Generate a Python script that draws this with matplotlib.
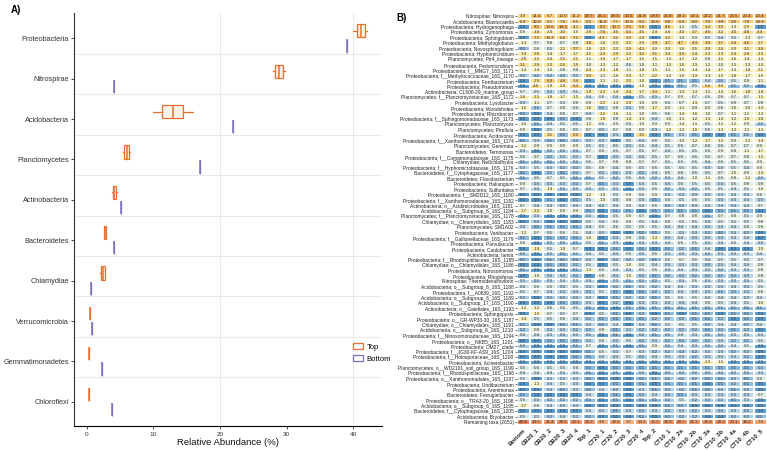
import numpy as np
import matplotlib
matplotlib.use("Agg")
import matplotlib.pyplot as plt
from matplotlib.colors import LinearSegmentedColormap, Normalize
from matplotlib.patches import Patch

plt.rcParams['font.family'] = ['Liberation Sans', 'DejaVu Sans']

# ---- panel A data (box stats) ----
phyla = ['Proteobacteria', 'Nitrospirae', 'Acidobacteria', 'Planctomycetes',
         'Actinobacteria', 'Bacteroidetes', 'Chlamydiae', 'Verrucomicrobia',
         'Gemmatimonadetes', 'Chloroflexi']
top_whislo = [39.9, 27.9, 10.0, 5.4, 3.8, 2.6, 2.0, 0.5, 0.35, 0.3]
top_q1 = [40.5, 28.3, 11.35, 5.55, 3.9, 2.6, 2.1, 0.5, 0.35, 0.3]
top_med = [41.1, 28.9, 12.9, 6.0, 4.15, 2.75, 2.4, 0.5, 0.35, 0.3]
top_q3 = [41.8, 29.4, 14.4, 6.4, 4.4, 2.9, 2.7, 0.5, 0.35, 0.3]
top_whishi = [42.1, 29.8, 15.9, 6.55, 4.5, 2.9, 2.8, 0.5, 0.35, 0.3]
bottom_vals = [39.1, 4.15, 21.9, 16.96, 5.1, 4.15, 0.65, 0.85, 2.25, 3.75]

# ---- panel B data ----
samples = ['Bottom', 'CB20_1', 'CB20_2', 'CB20_3', 'CB20_4', 'Top_1', 'CT20_1',
           'CT20_2', 'CT20_3', 'CT20_4', 'Top_2', 'CT10_1', 'CT10_2a', 'CT10_2b',
           'CT10_3a', 'CT10_3b', 'CT10_4a', 'CT10_4b', 'CT10_5']

taxa = [
    'Nitrospirae; Nitrospira', 'Acidobacteria; Blastocatella',
    'Proteobacteria; Hydrogenophaga', 'Proteobacteria; Zymomonas',
    'Proteobacteria; Sphingobium', 'Proteobacteria; Methyloglobulus',
    'Proteobacteria; Novosphingobium', 'Proteobacteria; Hyphomicrobium',
    'Planctomycetes; Pir4_lineage', 'Proteobacteria; Pedomicrobium',
    'Proteobacteria; f__MNG7_16S_1171', 'Proteobacteria; f__Methylococcaceae_16S_1170',
    'Proteobacteria; Ferribacterium', 'Proteobacteria; Pseudomonas',
    'Actinobacteria; CL500-29_marine_group', 'Planctomycetes; f__Planctomycetaceae_16S_1172',
    'Proteobacteria; Lysobacter', 'Proteobacteria; Woodsholea',
    'Proteobacteria; Rhizobacter', 'Proteobacteria; f__Sphingomonadaceae_16S_1173',
    'Planctomycetes; Planctomyces', 'Planctomycetes; Pirellula',
    'Proteobacteria; Acidovorax', 'Proteobacteria; f__Xanthomonadaceae_16S_1174',
    'Planctomycetes; Gemmata', 'Bacteroidetes; Terrimonas',
    'Proteobacteria; f__Comamonadaceae_16S_1175', 'Chlamydiae; Neochlamydia',
    'Proteobacteria; f__Hyphomicrobiaceae_16S_1176', 'Bacteroidetes; f__Cytophagaceae_16S_1177',
    'Bacteroidetes; Flavobacterium', 'Proteobacteria; Haliangium',
    'Proteobacteria; Sulfuritalea', 'Proteobacteria; f__SM2D12_16S_1180',
    'Proteobacteria; f__Xanthomonadaceae_16S_1182', 'Actinobacteria; o__Acidimicrobiales_16S_1181',
    'Acidobacteria; o__Subgroup_6_16S_1184', 'Planctomycetes; f__Planctomycetaceae_16S_1178',
    'Chlamydiae; o__Chlamydiales_16S_1183', 'Planctomycetes; SM1A02',
    'Proteobacteria; Variibacter', 'Proteobacteria; f__Gallionellaceae_16S_1179',
    'Proteobacteria; Parvularcula', 'Proteobacteria; Caulobacter',
    'Actinobacteria; Iamia', 'Proteobacteria; f__Rhodospirillaceae_16S_1185',
    'Chlamydiae; o__Chlamydiales_16S_1186', 'Proteobacteria; Nitrosomonas',
    'Proteobacteria; Rhodoferax', 'Nitrospirae; Thermodesulfovibrio',
    'Acidobacteria; o__Subgroup_6_16S_1188', 'Proteobacteria; f__A0839_16S_1192',
    'Acidobacteria; o__Subgroup_6_16S_1189', 'Acidobacteria; o__Subgroup_17_16S_1190',
    'Actinobacteria; o__Gaiellales_16S_1193', 'Proteobacteria; Sphingopyxis',
    'Proteobacteria; o__GR-WP33-30_16S_1187', 'Chlamydiae; o__Chlamydiales_16S_1191',
    'Acidobacteria; o__Subgroup_6_16S_1210', 'Proteobacteria; f__Nitrosomonadaceae_16S_1194',
    'Proteobacteria; o__NKB5_16S_1201', 'Proteobacteria; OM27_clade',
    'Proteobacteria; f__JG30-KF-AS9_16S_1204', 'Proteobacteria; f__Holosporaceae_16S_1200',
    'Proteobacteria; Acinetobacter', 'Planctomycetes; o__WD2101_soil_group_16S_1199',
    'Proteobacteria; f__Rhodospirillaceae_16S_1196', 'Proteobacteria; o__Xanthomonadales_16S_1197',
    'Proteobacteria; Undibacterium', 'Proteobacteria; Arenimonas',
    'Bacteroidetes; Ferruginibacter', 'Proteobacteria; o__TRA3-20_16S_1198',
    'Acidobacteria; o__Subgroup_6_16S_1195', 'Bacteroidetes; f__Cytophagaceae_16S_1205',
    'Acidobacteria; Bryobacter', 'Remaining taxa (2651)',
]

abundance = [
    [3.9, 11.4, 6.7, 10.0, 11.2, 29.7, 26.1, 29.9, 30.5, 21.8, 28.0, 25.8, 19.3, 22.1, 22.2, 21.7, 23.5, 20.4, 20.4],
    [6.9, 12.0, 5.5, 7.6, 6.5, 6.5, 11.0, 7.7, 10.9, 9.1, 13.6, 9.0, 6.4, 8.0, 7.0, 9.9, 9.0, 7.8, 10.9],
    [0.0, 8.5, 10.6, 14.3, 4.1, 0.0, 8.3, 10.7, 9.1, 5.8, 0.0, 4.6, 1.1, 0.5, 3.4, 3.0, 1.3, 2.0, 0.0],
    [0.9, 3.4, 2.4, 3.0, 1.5, 2.8, 7.0, 3.6, 5.5, 3.5, 2.4, 2.4, 3.3, 3.7, 4.6, 3.2, 3.6, 4.8, 4.4],
    [0.0, 7.1, 10.7, 6.0, 7.1, 0.0, 4.3, 3.2, 3.2, 2.4, 0.0, 3.2, 1.0, 0.9, 0.5, 0.4, 0.6, 1.3, 0.7],
    [1.3, 0.7, 0.8, 0.7, 0.8, 3.8, 1.6, 2.2, 2.1, 2.0, 3.9, 3.7, 4.7, 4.3, 3.8, 3.7, 3.4, 4.6, 2.7],
    [0.1, 0.8, 0.5, 2.1, 7.7, 1.6, 2.2, 2.3, 2.9, 4.1, 2.0, 2.0, 1.6, 2.5, 2.9, 2.4, 2.0, 3.1, 3.9],
    [1.9, 2.8, 1.4, 1.7, 1.7, 2.1, 2.4, 2.9, 2.2, 3.2, 3.1, 2.4, 3.3, 2.4, 2.3, 2.3, 2.4, 2.8, 2.3],
    [2.8, 2.2, 2.4, 2.5, 2.1, 1.1, 1.9, 1.7, 1.7, 1.5, 1.5, 1.3, 1.7, 1.2, 0.9, 1.5, 1.6, 1.4, 1.3],
    [3.1, 2.9, 2.3, 2.6, 1.9, 1.0, 1.3, 1.2, 0.6, 1.0, 1.1, 1.3, 1.6, 1.3, 1.2, 1.0, 1.3, 1.3, 1.3],
    [1.3, 1.4, 1.0, 0.8, 0.8, 2.4, 2.3, 1.8, 1.1, 1.8, 1.5, 1.1, 1.5, 1.4, 1.4, 1.7, 1.3, 1.8, 2.1],
    [0.2, 0.2, 0.2, 0.2, 0.3, 3.9, 1.1, 1.6, 2.3, 1.7, 2.2, 1.3, 1.6, 1.9, 1.3, 1.5, 1.8, 1.7, 1.5],
    [0.0, 2.9, 6.9, 4.8, 3.4, 0.0, 1.1, 1.2, 2.0, 1.6, 0.0, 0.1, 0.1, 0.1, 0.4, 0.2, 0.5, 0.9, 1.1],
    [0.0, 4.0, 1.9, 2.0, 6.3, 0.0, 0.0, 0.0, 0.0, 1.2, 0.0, 0.0, 0.1, 0.5, 5.6, 3.0, 0.1, 0.2, 0.0],
    [0.7, 0.5, 0.3, 0.3, 0.5, 1.9, 2.2, 1.4, 2.4, 1.7, 3.3, 1.1, 1.3, 1.3, 1.1, 1.3, 1.6, 1.8, 1.4],
    [2.4, 2.3, 1.8, 1.7, 1.5, 0.4, 0.6, 0.4, 0.0, 0.5, 0.3, 0.7, 0.9, 0.7, 0.6, 0.8, 0.7, 0.7, 1.5],
    [0.3, 1.1, 0.7, 0.6, 0.8, 0.9, 2.2, 1.3, 2.0, 1.0, 0.9, 0.6, 0.7, 1.3, 0.7, 0.5, 0.8, 0.7, 0.8],
    [1.5, 0.2, 0.7, 0.8, 0.6, 1.6, 0.2, 0.8, 0.3, 0.9, 1.7, 0.9, 1.1, 0.9, 0.9, 0.8, 1.0, 1.0, 1.3],
    [0.1, 0.0, 0.4, 0.6, 0.7, 0.4, 2.2, 1.6, 1.1, 1.0, 0.5, 0.6, 1.4, 1.6, 1.0, 0.7, 1.1, 1.1, 1.3],
    [0.0, 0.0, 0.0, 0.1, 0.0, 0.8, 1.8, 0.8, 1.4, 1.3, 0.4, 1.0, 1.1, 1.2, 1.3, 1.3, 1.2, 1.6, 1.8],
    [1.0, 0.1, 0.4, 0.5, 0.5, 1.2, 0.6, 0.9, 0.6, 1.0, 0.9, 0.9, 1.4, 1.1, 0.6, 1.1, 1.2, 0.9, 0.2],
    [0.9, 0.0, 0.5, 0.6, 0.5, 0.7, 0.3, 0.7, 0.8, 0.9, 0.3, 1.2, 1.3, 1.6, 0.6, 1.3, 1.3, 1.1, 1.1],
    [0.0, 0.0, 3.5, 0.1, 5.6, 0.0, 0.0, 0.3, 0.0, 3.5, 0.0, 0.1, 0.3, 0.1, 0.0, 0.0, 0.1, 0.2, 0.0],
    [0.1, 0.3, 0.1, 0.1, 0.2, 0.3, 0.3, 0.0, 0.5, 0.3, 0.6, 0.6, 1.0, 1.2, 1.7, 1.2, 0.9, 1.2, 1.4],
    [1.2, 0.9, 0.9, 0.9, 0.9, 0.5, 0.5, 0.5, 0.3, 0.6, 0.4, 0.5, 0.6, 0.7, 0.6, 0.6, 0.7, 0.7, 0.9],
    [0.3, 0.0, 0.2, 0.2, 0.2, 0.7, 0.6, 0.5, 0.7, 0.5, 0.7, 0.4, 0.5, 0.5, 0.6, 0.9, 0.8, 1.1, 1.7],
    [0.6, 0.7, 0.2, 0.3, 0.3, 0.7, 0.0, 0.3, 0.4, 0.4, 0.5, 0.7, 0.6, 0.6, 0.6, 0.7, 0.7, 0.8, 1.2],
    [0.1, 0.1, 0.1, 0.2, 0.2, 0.6, 0.7, 0.8, 0.8, 0.7, 0.7, 0.5, 0.6, 0.6, 0.4, 0.6, 0.5, 0.5, 0.9],
    [0.3, 0.5, 0.3, 0.2, 0.2, 0.5, 0.8, 0.4, 0.6, 0.5, 0.6, 0.5, 0.5, 0.5, 0.3, 0.4, 0.5, 0.4, 0.9],
    [0.1, 0.0, 0.2, 0.1, 0.2, 0.7, 0.3, 0.2, 0.4, 0.2, 0.4, 0.6, 0.6, 0.6, 0.5, 0.7, 1.0, 0.9, 1.4],
    [0.1, 0.5, 0.7, 0.5, 0.1, 0.1, 0.5, 0.2, 0.6, 0.4, 0.2, 0.3, 0.4, 1.0, 1.1, 0.6, 0.8, 1.2, 0.2],
    [0.9, 0.3, 0.3, 0.3, 0.2, 0.7, 0.1, 0.3, 0.0, 0.4, 0.6, 0.4, 0.6, 0.5, 0.5, 0.3, 0.6, 0.8, 0.8],
    [0.7, 0.3, 1.4, 0.2, 0.3, 0.3, 0.3, 0.3, 0.0, 0.3, 0.6, 0.2, 0.3, 0.2, 0.6, 0.5, 0.4, 0.5, 1.0],
    [0.0, 0.0, 0.0, 0.0, 0.0, 1.2, 1.0, 0.5, 0.9, 0.6, 0.9, 0.3, 0.3, 0.3, 0.3, 0.3, 0.4, 0.3, 0.6],
    [0.0, 0.0, 0.1, 0.0, 0.1, 0.5, 1.0, 0.4, 0.8, 0.4, 0.1, 0.6, 0.5, 0.6, 0.5, 0.3, 0.4, 0.4, 0.3],
    [0.7, 0.4, 0.4, 0.2, 0.3, 0.4, 0.3, 0.4, 0.6, 0.4, 0.6, 0.2, 0.2, 0.3, 0.4, 0.3, 0.3, 0.4, 0.7],
    [1.7, 2.2, 1.0, 0.9, 0.9, 0.1, 0.0, 0.1, 0.1, 0.0, 0.1, 0.1, 0.1, 0.1, 0.0, 0.1, 0.1, 0.1, 0.0],
    [0.0, 0.3, 0.0, 0.0, 0.0, 0.3, 0.0, 0.5, 0.9, 0.7, 0.0, 0.7, 0.8, 0.8, 0.1, 0.7, 0.8, 0.5, 0.9],
    [0.0, 0.2, 0.0, 0.0, 0.0, 0.5, 0.4, 0.6, 0.8, 0.5, 0.4, 0.6, 0.5, 0.5, 0.4, 0.5, 0.5, 0.5, 0.8],
    [0.4, 0.1, 0.1, 0.1, 0.1, 0.4, 0.6, 0.6, 0.5, 0.6, 0.5, 0.4, 0.4, 0.4, 0.3, 0.4, 0.4, 0.6, 0.8],
    [1.2, 0.7, 0.5, 0.6, 0.6, 0.4, 0.3, 0.0, 0.0, 0.1, 0.1, 0.5, 0.3, 0.3, 0.2, 0.1, 0.3, 0.2, 0.0],
    [0.1, 0.0, 0.1, 0.1, 0.1, 1.0, 0.0, 0.3, 0.8, 0.4, 1.3, 0.3, 0.4, 0.3, 0.3, 0.3, 0.4, 0.4, 0.0],
    [0.8, 0.0, 0.2, 0.2, 0.1, 0.5, 0.1, 0.3, 0.0, 0.3, 0.3, 0.4, 0.6, 0.5, 0.3, 0.4, 0.6, 0.4, 0.3],
    [0.0, 1.9, 0.5, 1.0, 0.7, 0.0, 0.0, 0.1, 0.0, 0.1, 0.0, 0.1, 0.2, 0.1, 0.4, 0.0, 0.0, 0.0, 1.0],
    [0.2, 0.0, 0.2, 0.1, 0.2, 0.4, 0.5, 0.3, 0.6, 0.3, 0.6, 0.3, 0.3, 0.3, 0.2, 0.3, 0.3, 0.3, 0.4],
    [0.1, 0.0, 0.1, 0.1, 0.1, 0.3, 0.0, 0.2, 0.2, 0.2, 0.1, 0.6, 0.7, 0.6, 0.4, 0.5, 0.5, 0.5, 0.7],
    [0.0, 0.0, 0.1, 0.1, 0.2, 0.5, 0.0, 0.5, 1.0, 0.6, 0.4, 0.3, 0.3, 0.3, 0.2, 0.3, 0.4, 0.4, 0.8],
    [0.1, 0.0, 0.0, 0.0, 0.1, 1.3, 0.6, 0.4, 0.3, 0.5, 0.6, 0.3, 0.4, 0.3, 0.3, 0.2, 0.3, 0.3, 0.8],
    [0.0, 1.0, 0.3, 0.3, 0.2, 0.0, 0.8, 0.3, 1.0, 0.2, 0.1, 0.2, 0.2, 0.2, 0.2, 0.2, 0.2, 0.3, 0.8],
    [0.3, 0.2, 0.3, 0.4, 0.3, 0.3, 0.0, 0.3, 0.1, 0.2, 0.2, 0.5, 0.3, 0.6, 0.3, 0.3, 0.3, 0.3, 0.5],
    [0.4, 0.6, 0.6, 0.3, 0.5, 0.3, 0.0, 0.2, 0.1, 0.3, 0.2, 0.4, 0.4, 0.3, 0.3, 0.3, 0.4, 0.3, 0.5],
    [0.5, 0.7, 0.4, 0.3, 0.3, 0.2, 0.5, 0.1, 0.0, 0.1, 0.2, 0.2, 0.4, 0.3, 0.3, 0.2, 0.2, 0.3, 0.8],
    [0.2, 0.0, 0.2, 0.2, 0.2, 0.3, 0.0, 0.1, 0.2, 0.2, 0.1, 0.5, 0.6, 0.5, 0.4, 0.4, 0.4, 0.3, 0.4],
    [0.0, 0.0, 0.0, 0.1, 0.1, 0.3, 0.0, 0.2, 0.0, 0.3, 0.3, 0.3, 0.3, 0.4, 0.6, 0.5, 0.4, 0.5, 1.0],
    [1.2, 1.2, 0.6, 0.6, 0.5, 0.1, 0.0, 0.0, 0.1, 0.1, 0.1, 0.1, 0.1, 0.1, 0.1, 0.1, 0.1, 0.1, 0.1],
    [0.0, 1.6, 0.7, 0.5, 0.7, 0.0, 0.5, 0.1, 0.0, 0.2, 0.0, 0.1, 0.0, 0.1, 0.1, 0.0, 0.1, 0.1, 0.0],
    [1.4, 0.5, 0.5, 0.6, 0.4, 0.2, 0.1, 0.1, 0.1, 0.1, 0.2, 0.2, 0.2, 0.1, 0.1, 0.2, 0.0, 0.1, 0.0],
    [0.1, 0.0, 0.0, 0.1, 0.1, 0.3, 0.1, 0.4, 0.0, 0.3, 0.1, 0.5, 0.5, 0.5, 0.2, 0.4, 0.4, 0.2, 0.4],
    [0.2, 0.8, 0.3, 0.3, 0.2, 0.2, 0.8, 0.1, 0.3, 0.2, 0.2, 0.2, 0.2, 0.2, 0.1, 0.2, 0.1, 0.2, 0.0],
    [0.4, 0.4, 0.3, 0.2, 0.3, 0.2, 0.0, 0.1, 0.0, 0.2, 0.1, 0.2, 0.4, 0.3, 0.2, 0.2, 0.3, 0.3, 0.3],
    [0.0, 0.0, 0.1, 0.1, 0.1, 0.3, 0.6, 0.3, 0.5, 0.2, 0.3, 0.2, 0.2, 0.2, 0.2, 0.3, 0.2, 0.2, 0.5],
    [0.2, 0.0, 0.0, 0.0, 0.1, 0.7, 0.0, 0.1, 0.0, 0.1, 0.9, 0.2, 0.4, 0.3, 0.2, 0.2, 0.4, 0.5, 0.0],
    [0.0, 0.0, 0.0, 0.0, 0.0, 0.1, 0.6, 0.3, 0.7, 0.3, 0.2, 0.2, 0.2, 0.2, 0.3, 0.3, 0.2, 0.2, 0.0],
    [0.0, 0.0, 0.0, 0.0, 0.1, 0.1, 0.4, 0.3, 0.5, 0.2, 0.4, 0.3, 0.3, 0.2, 0.3, 0.3, 0.3, 0.2, 0.0],
    [0.0, 0.0, 0.0, 0.0, 0.0, 0.0, 0.0, 0.0, 0.0, 0.0, 0.0, 0.0, 0.0, 0.0, 2.3, 1.5, 0.0, 0.0, 0.0],
    [0.6, 0.6, 0.5, 0.6, 0.6, 0.1, 0.0, 0.1, 0.1, 0.1, 0.1, 0.1, 0.1, 0.1, 0.1, 0.1, 0.1, 0.1, 0.2],
    [0.4, 0.4, 0.4, 0.3, 0.3, 0.1, 0.0, 0.1, 0.0, 0.2, 0.0, 0.2, 0.2, 0.2, 0.2, 0.2, 0.2, 0.2, 0.3],
    [0.5, 0.0, 0.3, 0.3, 0.3, 0.1, 0.0, 0.0, 0.0, 0.1, 0.1, 0.2, 0.2, 0.2, 0.1, 0.1, 0.2, 0.1, 0.6],
    [0.0, 1.3, 0.4, 0.5, 0.4, 0.0, 0.0, 0.1, 0.0, 0.1, 0.0, 0.1, 0.1, 0.1, 0.0, 0.1, 0.2, 0.1, 0.0],
    [0.0, 0.0, 0.3, 0.1, 0.3, 0.1, 0.4, 0.2, 0.0, 0.3, 0.1, 0.2, 0.2, 0.1, 0.1, 0.2, 0.1, 0.2, 0.0],
    [0.1, 0.0, 0.0, 0.0, 0.0, 0.4, 0.0, 0.1, 0.0, 0.2, 0.4, 0.2, 0.1, 0.3, 0.3, 0.3, 0.3, 0.3, 0.7],
    [0.6, 0.3, 0.2, 0.2, 0.2, 0.1, 0.0, 0.1, 0.0, 0.1, 0.1, 0.2, 0.5, 0.2, 0.2, 0.2, 0.1, 0.3, 0.0],
    [1.7, 0.6, 0.4, 0.3, 0.3, 0.0, 0.0, 0.0, 0.0, 0.0, 0.0, 0.1, 0.1, 0.0, 0.0, 0.0, 0.0, 0.0, 0.0],
    [0.0, 0.0, 0.0, 0.0, 0.0, 0.4, 0.3, 0.1, 0.3, 0.2, 0.3, 0.2, 0.3, 0.2, 0.3, 0.2, 0.3, 0.2, 0.0],
    [0.5, 0.5, 0.2, 0.4, 0.3, 0.1, 0.0, 0.0, 0.0, 0.1, 0.0, 0.1, 0.2, 0.2, 0.0, 0.0, 0.2, 0.2, 0.1],
    [49.4, 14.6, 21.4, 24.5, 20.1, 19.2, 4.8, 12.6, 3.7, 13.1, 15.3, 18.8, 23.7, 21.1, 16.4, 18.3, 20.1, 18.3, 7.8],
]

col_top = '#E8702E'
col_bottom = '#7A72BE'

fig = plt.figure(figsize=(7.67, 4.5), dpi=100)

# ---------------- panel A ----------------
axA = fig.add_axes([0.0965, 0.0533, 0.4016, 0.918])
pos = np.arange(len(phyla))

top_stats = [dict(whislo=a, q1=b, med=c, q3=d, whishi=e, fliers=[])
             for a, b, c, d, e in zip(top_whislo, top_q1, top_med, top_q3, top_whishi)]
bot_stats = [dict(whislo=v, q1=v, med=v, q3=v, whishi=v, fliers=[]) for v in bottom_vals]

for stats, off, col in [(top_stats, -0.1875, col_top), (bot_stats, 0.1875, col_bottom)]:
    bp = axA.bxp(stats, positions=pos + off, widths=0.33, orientation='horizontal',
                 showcaps=False, showfliers=False, patch_artist=True, manage_ticks=False,
                 boxprops=dict(edgecolor=col, facecolor=(1, 1, 1, 0), linewidth=0.9),
                 whiskerprops=dict(color=col, linewidth=0.9),
                 medianprops=dict(color=col, linewidth=1.1))
    for b in bp['boxes']:
        b.set_facecolor(matplotlib.colors.to_rgba(col, 0.08))

for g in pos[:-1] + 0.39:
    axA.axhline(g, color='#E6E6E6', lw=0.6, zorder=0)
for g in [20, 40]:
    axA.axvline(g, color='#E6E6E6', lw=0.6, zorder=0)

axA.set_ylim(len(phyla) - 0.4, -0.63)
axA.set_xlim(-1.9, 44.3)
axA.set_yticks(pos)
axA.set_yticklabels(phyla, fontsize=5.3, color='#333333')
axA.set_xticks([0, 10, 20, 30, 40])
axA.tick_params(axis='x', labelsize=4.6, labelcolor='#333333', length=2, width=0.5, pad=2)
axA.tick_params(axis='y', length=2, width=0.5, pad=1.5)
axA.set_xlabel('Relative Abundance (%)', fontsize=6.8, labelpad=1, color='#111111')
for s in ['top', 'right']:
    axA.spines[s].set_visible(False)
axA.spines['left'].set_color('#333333')
axA.spines['left'].set_linewidth(0.8)
axA.spines['bottom'].set_linewidth(0.8)

handles = [Patch(facecolor='white', edgecolor=col_top, linewidth=0.9, label='Top'),
           Patch(facecolor='white', edgecolor=col_bottom, linewidth=0.9, label='Bottom')]
fig.legend(handles=handles, loc='upper left', bbox_to_anchor=(0.456, 0.245), frameon=False,
           fontsize=5.5, handlelength=1.3, handleheight=0.9, labelspacing=0.55,
           handletextpad=0.5, borderaxespad=0)

fig.text(0.014, 0.988, 'A)', fontsize=7, fontweight='bold', va='top')
fig.text(0.517, 0.972, 'B)', fontsize=7, fontweight='bold', va='top')

# ---------------- panel B ----------------
axB = fig.add_axes([0.6737, 0.0562, 0.3263, 0.914])
data = np.array(abundance)
nrow, ncol = data.shape

anchor_vals = [0.0, 0.1, 0.2, 0.3, 0.5, 0.8, 1.0, 1.5, 2.5, 5.0, 10.0, 20.0, 31.0]
anchor_cols = ['#5C9DD0', '#8DBCE0', '#A8CDE6', '#BAD8E9', '#D3E6EA', '#E5EFE0',
               '#EFF2CF', '#F7F1BA', '#FAE8A0', '#FAD787', '#F9C473', '#F5AF5F', '#F0A055']
tf = lambda v: np.log10(np.asarray(v) + 0.1)
lo, hi = tf(anchor_vals[0]), tf(anchor_vals[-1])
cmap = LinearSegmentedColormap.from_list(
    'abund', [((tf(v) - lo) / (hi - lo), c) for v, c in zip(anchor_vals, anchor_cols)])
cmap_rest = LinearSegmentedColormap.from_list('rest', ['#F6B985', '#F3A070', '#EC8456'])

xe = np.arange(ncol + 1)
ye = np.arange(nrow + 1)
axB.pcolormesh(xe, ye[:-1], tf(data[:-1]), cmap=cmap, norm=Normalize(lo, hi),
               edgecolor='white', linewidth=0.3)
axB.pcolormesh(xe, ye[-2:], tf(data[-1:]), cmap=cmap_rest,
               norm=Normalize(tf(3.0), tf(50.0)), edgecolor='white', linewidth=0.3)

for i in range(nrow):
    for j in range(ncol):
        axB.text(j + 0.5, i + 0.5, '%.1f' % data[i, j], ha='center', va='center',
                 fontsize=3.2, color='#303030')

axB.set_xlim(0, ncol)
axB.set_ylim(nrow, 0)
axB.set_yticks(np.arange(nrow) + 0.5)
axB.set_yticklabels(taxa, fontsize=3.5, color='#222222')
axB.set_xticks(np.arange(ncol) + 0.5)
axB.set_xticklabels(samples, rotation=45, ha='right', va='top', fontsize=4.3,
                    fontweight='bold', color='#222222', rotation_mode='anchor')
axB.tick_params(axis='y', length=1.5, width=0.4, pad=0.8)
axB.tick_params(axis='x', length=0, pad=2)
for s in axB.spines.values():
    s.set_visible(False)

fig.savefig('out.png', dpi=100)
